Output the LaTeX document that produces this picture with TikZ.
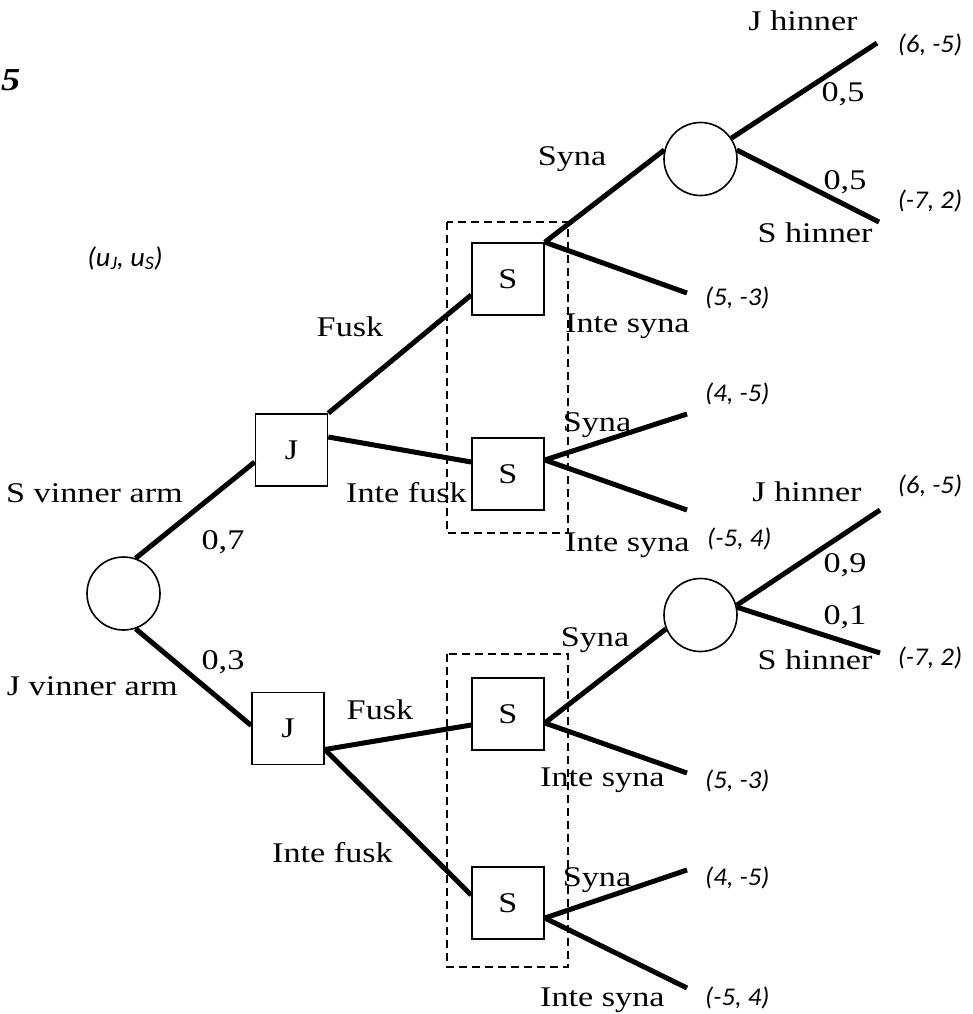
\documentclass[tikz,border=0pt]{standalone}
\usepackage{fontspec}
\setmainfont{Liberation Serif}[FakeStretch=1.2]
\newfontfamily\payfont{Carlito}[FakeStretch=1.05]
\usetikzlibrary{calc}
\newcommand\lblfont{\fontsize{28.5}{30}\selectfont}
\newcommand\payfontsize{\payfont\itshape\fontsize{25.5}{27}\selectfont}
\newcommand\smallsub[1]{\raisebox{-0.3ex}{\fontsize{19}{19}\selectfont #1}}
\begin{document}
\begin{tikzpicture}[x=1pt,y=-1pt,
  chance/.style={circle, draw, line width=1.6pt, fill=white, minimum size=73pt, inner sep=0pt},
  player/.style={rectangle, draw, line width=1.6pt, fill=white, minimum size=72pt, inner sep=0pt, font=\lblfont},
  branch/.style={line width=5pt},
  infoset/.style={draw, line width=1.5pt, dash pattern=on 8pt off 5pt},
  lbl/.style={inner sep=0pt, font=\lblfont, text height=18pt, text depth=0pt},
  pay/.style={inner sep=0pt, font=\payfontsize, text height=16pt, text depth=0pt}]
\useasboundingbox (0,0) rectangle (972,1014);

% information sets of S
\draw[infoset] (447,222) rectangle (568,533);
\draw[infoset] (447,654) rectangle (568,967);

% decision and chance nodes
\node[chance] (root) at (123.5,593.5) {};
\node[player] (J1) at (291.5,450) {J};
\node[player] (J2) at (288,728.5) {J};
\node[player] (S1) at (508,279) {S};
\node[player] (S2) at (508,474) {S};
\node[player] (S3) at (508,714) {S};
\node[player] (S4) at (508,903) {S};
\node[chance] (C1) at (700.5,159) {};
\node[chance] (C2) at (700.5,615) {};

% free ends of the terminal branches
\coordinate (e1) at (877,43);
\coordinate (e2) at (879,222);
\coordinate (e3) at (687,293);
\coordinate (e4) at (687,414);
\coordinate (e5) at (687,510);
\coordinate (e6) at (880,510);
\coordinate (e7) at (880,653);
\coordinate (e8) at (687,773);
\coordinate (e9) at (687,870);
\coordinate (e10) at (687,988);

% branches
\draw[branch] (root.71) -- ($(J1.west)+(0,12)$);
\draw[branch] (root.-71) -- ($(J2.west)+(0,-3)$);
\draw[branch] (J1.north east) -- ($(S1.west)+(0,16)$);
\draw[branch] ($(J1.east)+(0,-13)$) -- ($(S2.west)+(0,-12)$);
\draw[branch] ($(J2.east)+(0,21)$) -- ($(S3.west)+(0,11)$);
\draw[branch] ($(J2.east)+(0,21)$) -- ($(S4.west)+(0,-8)$);
\draw[branch] (S1.north east) -- (C1.166);
\draw[branch] (S1.north east) -- (e3);
\draw[branch] (C1.34) -- (e1);
\draw[branch] (C1.14) -- (e2);
\draw[branch] ($(S2.east)+(0,-14)$) -- (e4);
\draw[branch] ($(S2.east)+(0,-14)$) -- (e5);
\draw[branch] ($(S3.east)+(0,9)$) -- (C2.202);
\draw[branch] ($(S3.east)+(0,9)$) -- (e8);
\draw[branch] (C2.15) -- (e6);
\draw[branch] (C2.12) -- (e7);
\draw[branch] ($(S4.east)+(0,15)$) -- (e9);
\draw[branch] ($(S4.east)+(0,15)$) -- (e10);

% headings
\node[anchor=west, inner sep=0pt, font=\bfseries\itshape\fontsize{32}{34}\selectfont] (num) at (1,80) {5};
\node[pay, font=\payfont\itshape\fontsize{27}{28}\selectfont] (uu) at (125,258) {(u\smallsub{J}, u\smallsub{S})};

% move labels
\node[lbl, anchor=east] (lsa) at (183,493) {S vinner arm};
\node[lbl, anchor=east] (lja) at (178,686) {J vinner arm};
\node[lbl] (p7) at (223,540) {0,7};
\node[lbl] (p3) at (223,660) {0,3};
\node[lbl] (f1) at (350,327) {Fusk};
\node[lbl] (f2) at (380,710) {Fusk};
\node[lbl, anchor=east] (nf1) at (467,493) {Inte fusk};
\node[lbl, anchor=east] (nf2) at (393,853) {Inte fusk};
\node[lbl] (sy1) at (572,156) {Syna};
\node[lbl] (sy2) at (597,422) {Syna};
\node[lbl] (sy3) at (595,637) {Syna};
\node[lbl] (sy4) at (597,877) {Syna};
\node[lbl, anchor=west] (ns1) at (565,323) {Inte syna};
\node[lbl, anchor=west] (ns2) at (565,542) {Inte syna};
\node[lbl, anchor=west] (ns3) at (540,777) {Inte syna};
\node[lbl, anchor=west] (ns4) at (540,997) {Inte syna};
\node[lbl] (jh1) at (803,22) {J hinner};
\node[lbl] (sh1) at (815,233) {S hinner};
\node[lbl] (jh2) at (807,492) {J hinner};
\node[lbl] (sh2) at (815,660) {S hinner};
\node[lbl] (q1) at (843,93) {0,5};
\node[lbl] (q2) at (845,180) {0,5};
\node[lbl] (q3) at (845,563) {0,9};
\node[lbl] (q4) at (845,615) {0,1};

% payoffs
\node[pay] (u1) at (930,45) {(6, -5)};
\node[pay] (u2) at (930,200) {(-7, 2)};
\node[pay, anchor=west] (u3) at (705,297) {(5, -3)};
\node[pay, anchor=west] (u4) at (705,393) {(4, -5)};
\node[pay, anchor=west] (u5) at (707,538) {(-5, 4)};
\node[pay] (u6) at (930,485) {(6, -5)};
\node[pay] (u7) at (930,657) {(-7, 2)};
\node[pay, anchor=west] (u8) at (705,780) {(5, -3)};
\node[pay, anchor=west] (u9) at (705,877) {(4, -5)};
\node[pay, anchor=west] (u10) at (705,997) {(-5, 4)};
\end{tikzpicture}
\end{document}
